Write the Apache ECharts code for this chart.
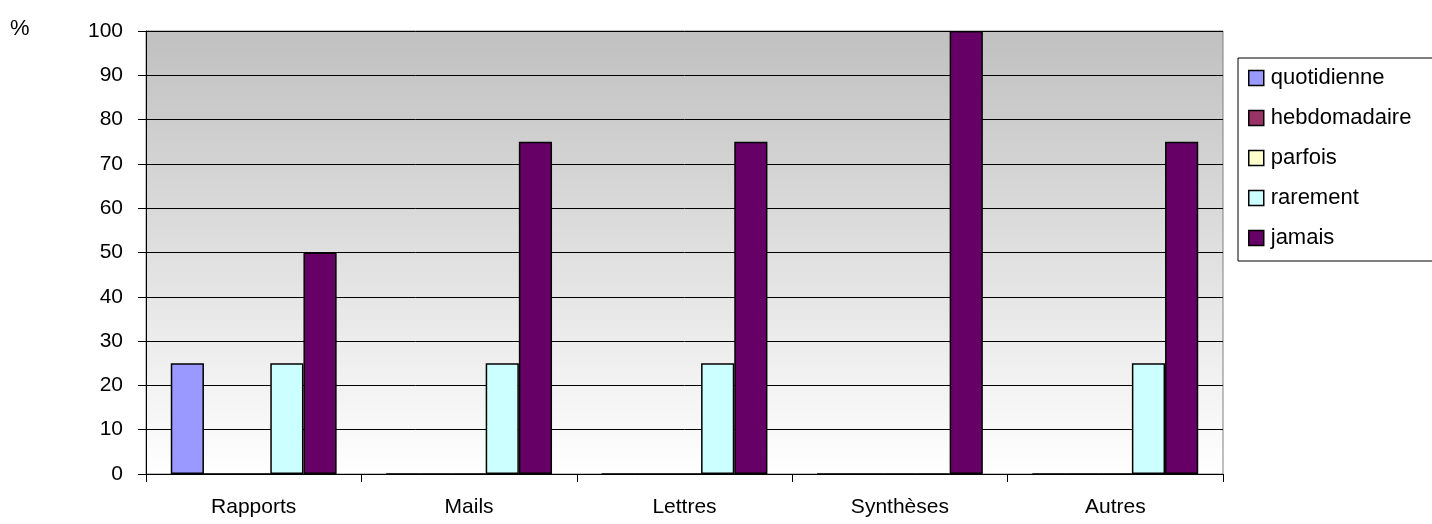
<!DOCTYPE html>
<html><head><meta charset="utf-8">
<script src="https://cdn.jsdelivr.net/npm/echarts@6/dist/echarts.min.js"></script>
<style>html,body{margin:0;padding:0;background:#fff}#c{width:1432px;height:524px}</style>
</head><body><div id="c"></div>
<script>
const categories = ['Rapports', 'Mails', 'Lettres', 'Synthèses', 'Autres'];
const seriesNames = ['quotidienne', 'hebdomadaire', 'parfois', 'rarement', 'jamais'];
const quotidienne = [25, 0, 0, 0, 0];
const hebdomadaire = [0, 0, 0, 0, 0];
const parfois = [0, 0, 0, 0, 0];
const rarement = [25, 25, 25, 0, 25];
const jamais = [50, 75, 75, 100, 75];
const seriesValues = [quotidienne, hebdomadaire, parfois, rarement, jamais];
const colors = ['#9999FF', '#993366', '#FFFFCC', '#CCFFFF', '#660066'];

const font = 'Arial, "Liberation Sans", sans-serif';
const fs = 21;
const chart = echarts.init(document.getElementById('c'));
chart.setOption({
  animation: false,
  textStyle: { fontFamily: font },
  grid: {
    left: 146, right: 209, top: 31, bottom: 50,
    show: true,
    borderColor: '#808080', borderWidth: 1,
    backgroundColor: new echarts.graphic.LinearGradient(0, 0, 0, 1, [
      { offset: 0, color: '#C0C0C0' },
      { offset: 1, color: '#FFFFFF' }
    ])
  },
  graphic: [{
    type: 'text', left: 10, top: 18,
    style: { text: '%', fontSize: 22, fontFamily: font, fill: '#000' }
  }],
  legend: {
    orient: 'vertical', left: 1238, top: 58,
    padding: [9, 60, 12, 10],
    itemWidth: 15, itemHeight: 15, itemGap: 18,
    borderColor: '#000', borderWidth: 1,
    icon: 'rect',
    itemStyle: { borderColor: '#000', borderWidth: 1.5 },
    textStyle: { fontSize: 22, lineHeight: 22, color: '#000', fontFamily: font, padding: [0, 0, 0, 2] },
    data: seriesNames
  },
  xAxis: {
    type: 'category', data: categories,
    axisLine: { lineStyle: { color: '#000', width: 1 } },
    axisTick: { show: true, length: 8, lineStyle: { color: '#000' } },
    axisLabel: { fontSize: fs, color: '#000', margin: 23 }
  },
  yAxis: {
    type: 'value', min: 0, max: 100, interval: 10,
    axisLine: { show: true, lineStyle: { color: '#000', width: 1 } },
    axisTick: { show: true, length: 8, lineStyle: { color: '#000' } },
    axisLabel: { fontSize: fs, color: '#000', margin: 23 },
    splitLine: { lineStyle: { color: '#000', width: 1 } }
  },
  series: seriesNames.map((n, i) => ({
    name: n, type: 'bar', data: seriesValues[i],
    barGap: '0%', barCategoryGap: '23%',
    itemStyle: { color: colors[i], borderColor: '#000', borderWidth: 1.5 }
  }))
});
</script></body></html>
